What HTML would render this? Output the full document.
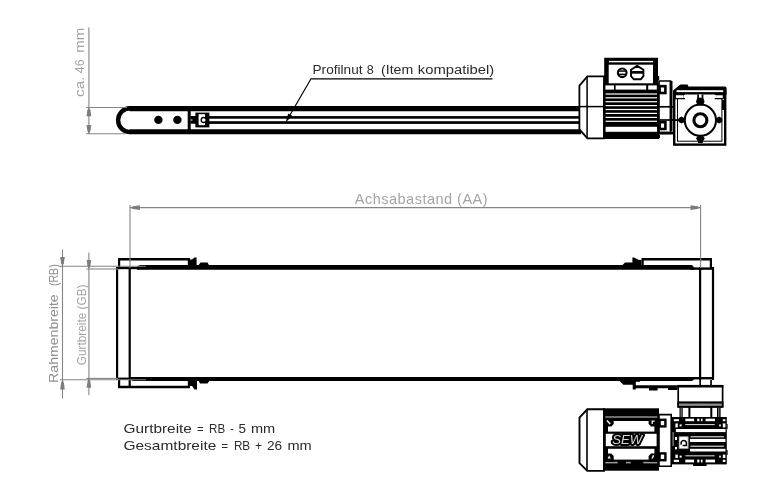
<!DOCTYPE html>
<html lang="de">
<head>
<meta charset="utf-8">
<title>Gurtförderer – Maßzeichnung</title>
<style>
  html, body { margin: 0; padding: 0; background: #fff; }
  body { width: 768px; height: 491px; overflow: hidden; }
  svg { display: block; will-change: transform; filter: grayscale(1); }
  text { font-family: "Liberation Sans", sans-serif; }
  .lbl { font-size: 12.4px; fill: #2b2b2b; }
  .dim { font-size: 13.2px; fill: #8f8f8f; }
  .aa  { font-size: 14.5px; fill: #a4a4a4; }
  .g   { stroke: #858585; stroke-width: 1.1; fill: none; }
  .ga  { fill: #7c7c7c; stroke: none; }
  .k   { fill: #000; stroke: none; }
  .w   { fill: #fff; stroke: none; }
  .o   { fill: #fff; stroke: #000; }
  .l   { fill: none; stroke: #000; }
</style>
</head>
<body>
<svg width="768" height="491" viewBox="0 0 768 491">
<rect width="768" height="491" fill="#fff"/>

<!-- ================= SIDE VIEW ================= -->

<g id="side-conveyor">
  <!-- body outline with rounded nose -->
  <path class="k" d="M129.5,106.1 H581 V111.2 H129.5 Z"/>
  <path class="k" d="M129.5,129.2 H581 V134.2 H129.5 Z"/>
  <path class="l" stroke-width="4.4" d="M130,108.3 A11.9,11.9 0 0 0 130,132.1"/>
  <!-- inner thin rails -->
  <rect class="k" x="207" y="116.1" width="374" height="2.6"/>
  <rect class="k" x="207" y="121.2" width="374" height="2.7"/>
  <!-- end plate -->
  <rect class="k" x="187.7" y="110" width="3" height="20"/>
  <rect class="k" x="190.4" y="116" width="5.6" height="7.7"/>
  <rect class="w" x="190.7" y="119.5" width="1.8" height="1"/>
  <rect class="k" x="195.4" y="112.6" width="14" height="14.8"/>
  <rect class="w" x="198.6" y="114.2" width="6.4" height="11"/>
  <circle class="o" stroke-width="1.3" cx="203.7" cy="120" r="2.5"/>
  <!-- holes -->
  <circle class="k" cx="158.4" cy="119.9" r="4.2"/>
  <circle class="k" cx="177.4" cy="119.9" r="4.2"/>
</g>

<g id="side-label">
  <text class="lbl" y="74.4" style="font-size:12.5px"><tspan x="312.5" textLength="50" lengthAdjust="spacingAndGlyphs">Profilnut</tspan> <tspan x="366.8" textLength="7" lengthAdjust="spacingAndGlyphs">8</tspan> <tspan x="381" textLength="32.2" lengthAdjust="spacingAndGlyphs">(Item</tspan> <tspan x="417.8" textLength="76.4" lengthAdjust="spacingAndGlyphs">kompatibel)</tspan></text>
  <path class="l" stroke="#555" stroke-width="1.2" d="M492.5,78.8 H311 L290,115"/>
  <polygon class="k" points="285.6,122.4 288.2,113.4 292.2,115.8"/>
</g>

<!-- ================= TOP VIEW ================= -->

<g id="top-conveyor">
  <!-- belt edges -->
  <path class="k" d="M137,266.6 L140,265 H692 L694,267.2 V269.8 H137 Z"/>
  <rect class="k" x="118" y="266.8" width="30" height="2.4"/>
  <rect class="k" x="690" y="267.4" width="24" height="2.4"/>
  <path class="k" d="M131,377 H694 V379.4 L692,381 H133 L131,380 Z"/>
  <rect class="k" x="118" y="377.6" width="30" height="2.4"/>
  <rect class="k" x="690" y="377" width="24" height="2.4"/>
  <!-- end rollers -->
  <rect class="k" x="116" y="267" width="2.2" height="113"/>
  <rect class="k" x="128.6" y="267" width="2.2" height="120"/>
  <rect class="k" x="699" y="267" width="2.2" height="113"/>
  <rect class="k" x="711.9" y="267" width="2.2" height="113"/>
  <!-- side rails -->
  <path class="k" d="M118,267 V258 H190 V267 H187.8 V260.5 H120.2 V267 Z"/>
  <path class="k" d="M118,380 V388.2 H190 V380 H187.8 V385.7 H120.2 V380 Z"/>
  <path class="k" d="M641.5,267 V258 H712 V268 H709.8 V260.6 H643.7 V267 Z"/>
  <!-- brackets -->
  <path class="k" d="M190,266 V259.5 H192 L194.5,257.4 H196.6 V266 Z M198,266 L200.5,262.4 H207.5 L209.5,266 Z"/>
  <path class="k" d="M641.5,266 V260 H639 L634,257.4 H632.4 V262.4 H625 L621.5,266 Z"/>
  <path class="k" d="M190,380 V386 H192 L194.5,389.6 H197 V380 Z M198,380 H210 L207.5,383.4 H200 Z"/>
</g>

<g id="notes">
  <text class="lbl" y="432.6"><tspan x="123.5" textLength="68.4" lengthAdjust="spacingAndGlyphs">Gurtbreite</tspan> <tspan x="197.1" textLength="6.6" lengthAdjust="spacingAndGlyphs">=</tspan> <tspan x="209.1" textLength="16.1" lengthAdjust="spacingAndGlyphs">RB</tspan> <tspan x="230" textLength="3.9" lengthAdjust="spacingAndGlyphs">-</tspan> <tspan x="238.5" textLength="7.5" lengthAdjust="spacingAndGlyphs">5</tspan> <tspan x="250.9" textLength="24.3" lengthAdjust="spacingAndGlyphs">mm</tspan></text>
  <text class="lbl" y="449.5"><tspan x="123.5" textLength="92.8" lengthAdjust="spacingAndGlyphs">Gesamtbreite</tspan> <tspan x="221.5" textLength="6.6" lengthAdjust="spacingAndGlyphs">=</tspan> <tspan x="233.9" textLength="16.3" lengthAdjust="spacingAndGlyphs">RB</tspan> <tspan x="255.2" textLength="6.8" lengthAdjust="spacingAndGlyphs">+</tspan> <tspan x="266.9" textLength="15.2" lengthAdjust="spacingAndGlyphs">26</tspan> <tspan x="287.4" textLength="24.3" lengthAdjust="spacingAndGlyphs">mm</tspan></text>
</g>


<!-- ================= SIDE VIEW: MOTOR ================= -->
<g id="side-motor">
  <!-- fan cover -->
  <path class="o" stroke-width="1.8" d="M579.4,85.6 L587.4,76.4 H604 V138.3 H587.4 L579.4,129.4 Z"/>
  <line class="l" stroke-width="1.5" x1="587.1" y1="76.4" x2="587.1" y2="138.3"/>
  <line class="l" stroke-width="1.5" x1="579.4" y1="106.6" x2="604" y2="106.6"/>
  <!-- motor body -->
  <rect class="k" x="603.2" y="83.4" width="56" height="55.6"/>
  <rect class="w" x="605.4" y="85.4" width="8.6" height="4.2"/>
  <rect class="w" x="615.6" y="85.4" width="30.6" height="4.2"/>
  <rect class="w" x="648.2" y="85.4" width="8.6" height="4.2"/>
  <g class="w">
    <rect x="605.6" y="93.4" width="51.4" height="1.2"/>
    <rect x="605.6" y="97.2" width="51.4" height="1.2"/>
    <rect x="605.6" y="101.1" width="51.4" height="1.2"/>
    <rect x="605.6" y="105" width="51.4" height="1.2"/>
    <rect x="605.6" y="108.9" width="51.4" height="1.2"/>
    <rect x="605.6" y="112.8" width="51.4" height="1.2"/>
    <rect x="605.6" y="116.8" width="51.4" height="1.2"/>
    <rect x="605.6" y="120.7" width="51.4" height="1.2"/>
    <rect x="605.6" y="126.8" width="51.4" height="5"/>
  </g>
  <path class="k" d="M659,100 h1 v2 h-1 z M659,104 h1 v2 h-1 z M659,108 h1 v2 h-1 z M659,112 h1 v2 h-1 z M659,116 h1 v2 h-1 z M659,122 h1 v2 h-1 z M659,135 h1 v3 h-1 z"/>
  <!-- terminal box -->
  <path class="k" d="M604.2,57.8 H658 V84.8 H604.2 Z M656.8,76 h2.4 v4 h-2.4 z"/>
  <rect class="w" x="609" y="60.9" width="44" height="1.4"/>
  <rect class="w" x="608.7" y="64.7" width="44.3" height="18.6"/>
  <circle class="o" stroke-width="2.1" cx="622.2" cy="72.8" r="4.3"/>
  <rect class="k" x="618" y="70.3" width="8.6" height="1.5"/>
  <rect class="k" x="618" y="73.6" width="8.6" height="1.5"/>
  <path class="o" stroke-width="1.9" stroke-linejoin="round" d="M637.2,65.9 L643.4,69.8 V76.2 L640.8,79.3 H633.8 L631,76.2 V69.8 Z"/>
  <rect class="k" x="630.4" y="71" width="13.6" height="2.7"/>
  <!-- flange motor/gear -->
  <path class="o" stroke-width="1.6" d="M659,81 H670.6 V133.5 H659 Z"/>
  <rect class="o" stroke-width="2.6" x="659.6" y="86.2" width="5.8" height="6.8"/>
  <rect class="o" stroke-width="2.6" x="659.6" y="122.2" width="5.8" height="6.8"/>
  <line class="l" stroke-width="1.7" x1="659" y1="106.8" x2="676" y2="106.8"/>
  <line class="l" stroke-width="1.7" x1="659" y1="120" x2="682" y2="120"/>
  <rect class="k" x="669.7" y="81" width="2.8" height="50"/>
  <path class="k" d="M659,131.6 H673 V134.4 H659 Z"/>
  <!-- gearbox -->
  <rect class="o" stroke-width="2.4" x="674.2" y="92" width="51" height="52.6"/>
  <rect class="l" stroke-width="1" x="677.5" y="96" width="44.4" height="45.2"/>
  <path class="k" d="M673,94.6 V90.6 L679.4,85.2 L680.6,84.5 H687.6 L688.4,86.5 H725.4 L726.6,87.8 V94.6 Z"/>
  <rect class="w" x="676.6" y="90.2" width="46.6" height="1.9"/>
  <rect class="o" stroke-width="1.3" x="675.3" y="94.6" width="9" height="4"/>
  <rect class="o" stroke-width="1.3" x="715.4" y="94.6" width="8" height="4"/>
  <rect class="w" x="684" y="95" width="32" height="3"/>
  <circle class="o" stroke-width="2" cx="700.4" cy="120.2" r="15.6"/>
  <circle class="o" stroke-width="3.1" cx="700.4" cy="120.2" r="6.5"/>
  <!-- lugs -->
  <path class="k" d="M697.2,94.6 h6.2 v3.6 l1.2,3.2 -1.6,4 h-5.4 l-1.6,-4 1.2,-3.2 z"/><rect class="w" x="699" y="94.3" width="2.6" height="3.4"/>
  <path class="k" d="M698,135.6 h4.8 l2,3 -2,3 v1.5 h-4.8 v-1.5 l-2,-3 z"/>
  <path class="k" d="M681.6,116.6 l3,1.6 v3.8 l-3,1.6 -3,-1.6 v-3.8 z"/>
  <path class="k" d="M719.2,116.6 l3,1.6 v3.8 l-3,1.6 -3,-1.6 v-3.8 z"/>
  <rect class="k" x="722" y="100" width="2.6" height="10"/>
  <rect class="k" x="672" y="119.2" width="8" height="1.8"/>
</g>


<!-- ================= TOP VIEW: DRIVE ================= -->
<g id="top-drive">
  <!-- lower-right rail / bracket -->
  <path class="k" d="M619.2,380.4 L623.3,384.8 H632.7 V389.4 H635.8 V388.2 H649 V390.4 H657.6 V388.2 H668 V390 H677.4 V385.2 H635.8 V381.8 H640 V380.4 Z"/>
  <rect class="w" x="636" y="382" width="4" height="1.4"/>
  <!-- shaft stub -->
  <rect class="k" x="699.3" y="380" width="1.7" height="6"/>
  <rect class="k" x="710.2" y="380" width="1.7" height="6"/>
  <!-- mounting block -->
  <rect class="o" stroke-width="1.7" x="678.2" y="386" width="44.4" height="20.8"/>
  <rect class="k" x="677.4" y="384.9" width="46" height="2.6"/>
  <rect class="k" x="677.4" y="401.4" width="46" height="6.3"/>
  <rect x="679" y="403.5" width="42.8" height="2.4" fill="#8a8a8a"/>
  <!-- studs -->
  <g>
    <rect class="k" x="679.5" y="407" width="3.2" height="11"/>
    <rect x="680.6" y="407.6" width="1" height="10" fill="#999"/>
    <rect class="k" x="688.4" y="407" width="2" height="11"/>
    <rect class="k" x="710.3" y="407" width="2" height="11"/>
    <rect class="k" x="717" y="407" width="3.6" height="11"/>
    <rect x="718.3" y="407.6" width="1" height="10" fill="#999"/>
  </g>
  <!-- fan cover -->
  <path class="o" stroke-width="1.9" d="M579.5,417.6 L587.3,409.3 H604 V470.9 H587.3 L579.5,463.2 Z"/>
  <line class="l" stroke-width="1.6" x1="587" y1="409.2" x2="587" y2="471"/>
  <!-- motor body -->
  <rect class="k" x="603" y="408.3" width="56" height="62.4"/>
  <rect x="605.3" y="416.3" width="52" height="1.4" fill="#9a9a9a"/>
  <rect class="w" x="608" y="421" width="46.4" height="10.6"/>
  <rect class="w" x="605.8" y="433.8" width="50.8" height="12.4"/>
  <rect class="w" x="608" y="448.8" width="46.4" height="10.8"/>
  <rect x="605.3" y="461.8" width="12.4" height="1.6" fill="#9a9a9a"/>
  <rect x="626" y="461.8" width="4.8" height="1.6" fill="#9a9a9a"/>
  <rect x="643.3" y="461.8" width="14" height="1.6" fill="#9a9a9a"/>
  <!-- corner screws -->
  <g class="k">
    <path d="M605.3,418 h8.4 v6 l-2.4,2.4 h-6 z"/>
    <path d="M657,418 h-8.4 v6 l2.4,2.4 h6 z"/>
    <path d="M605.3,462 h8.4 v-6 l-2.4,-2.4 h-6 z"/>
    <path d="M657,462 h-8.4 v-6 l2.4,-2.4 h6 z"/>
  </g>
  <g class="w">
    <path d="M607.4,420 l3.4,3.6 -1,1 -3.4,-3.6 z"/>
    <path d="M651.6,420.6 h3 v1.2 h-1.8 v2.2 h-1.2 z"/>
    <path d="M607.6,458.6 l1.6,-3 1.6,3 z"/>
    <path d="M651.4,458.6 l1.4,-3.4 h1.4 l-1.2,3.4 z"/>
  </g>
  <!-- SEW nameplate -->
  <text x="612.2" y="444.4" font-size="12.8" font-style="italic" fill="#d8d8d8" stroke="#000" stroke-width="3.9" stroke-linejoin="round" paint-order="stroke" textLength="29.8" lengthAdjust="spacingAndGlyphs">SEW</text>
  <!-- teeth on body right edge -->
  <path class="k" d="M659,424 h1 v2 h-1 z M659,430 h1 v2 h-1 z M659,436 h1 v2 h-1 z M659,442 h1 v2 h-1 z M659,448 h1 v2 h-1 z"/>
  <!-- flange -->
  <path class="o" stroke-width="1.6" d="M659,414.6 H671.2 V466.2 H659 Z"/>
  <rect class="o" stroke-width="2.4" x="659.6" y="419.8" width="5.8" height="6.6"/>
  <rect class="o" stroke-width="2.4" x="659.6" y="453.4" width="5.8" height="6.8"/>
  <!-- gearbox -->
  <rect class="k" x="671.6" y="417" width="55.2" height="47.4"/>
  <rect class="k" x="693" y="464" width="13.6" height="2"/>
  <rect class="k" x="726.6" y="424" width="1" height="5"/>
  <rect class="k" x="726.6" y="450" width="1" height="5"/>
  <rect x="672.6" y="432" width="1" height="14" fill="#aaa"/>
  <g class="w">
    <!-- upper flange row -->
    <rect x="673.8" y="419.2" width="5.2" height="2"/>
    <rect x="685.3" y="418.7" width="8.8" height="2.5"/>
    <rect x="697.2" y="418.7" width="2.2" height="2.5"/>
    <rect x="700.9" y="418.7" width="1.6" height="2.5"/>
    <rect x="705.6" y="418.7" width="9.4" height="2.5"/>
    <rect x="722.8" y="419.2" width="2.6" height="2"/>
    <rect x="675.4" y="423.4" width="2.4" height="4"/>
    <rect x="679.6" y="424.4" width="2" height="2"/>
    <rect x="685.3" y="424.2" width="29.4" height="0.9"/>
    <rect x="719.2" y="424.4" width="1.6" height="2"/>
    <rect x="722.8" y="423.4" width="2.6" height="4"/>
    <!-- body bands -->
    <rect x="675.9" y="429" width="49.6" height="3.1"/>
    <rect x="690.5" y="436.3" width="33.4" height="1"/>
    <rect x="690" y="438.9" width="35.4" height="3.1"/>
    <rect x="690.5" y="445.7" width="33.4" height="1"/>
    <rect x="690" y="448.8" width="35.4" height="2.7"/>
    <rect x="675" y="437" width="2" height="3"/>
    <rect x="675" y="447" width="2" height="2.4"/>
    <!-- lower flange row -->
    <rect x="675.4" y="454.6" width="2.4" height="3.4"/>
    <rect x="679.6" y="455.6" width="2" height="2"/>
    <rect x="685.3" y="455.4" width="29.4" height="0.9"/>
    <rect x="719.2" y="455.6" width="1.6" height="2"/>
    <rect x="722.8" y="454.6" width="2.6" height="3.4"/>
    <rect x="673.8" y="459.8" width="5.2" height="2.2"/>
    <rect x="685.3" y="459.6" width="8.8" height="2.8"/>
    <rect x="697.2" y="459.6" width="2.2" height="2.8"/>
    <rect x="700.9" y="459.6" width="1.6" height="2.8"/>
    <rect x="705.6" y="459.6" width="9.4" height="2.8"/>
    <rect x="722.8" y="459.8" width="2.6" height="2.2"/>
  </g>
  <!-- plug box -->
  <rect x="678.3" y="436" width="10.6" height="13.2" fill="#fff" stroke="#000" stroke-width="1.2"/>
  <rect x="679.2" y="436.8" width="8.8" height="11.6" fill="none" stroke="#999" stroke-width="0.7"/>
  <path class="l" stroke-width="1.5" d="M681.4,444.6 A2.7,2.7 0 1 1 686.4,443 V445.6 H682.6"/>
</g>

<g id="side-dim">
  <line class="g" x1="88.9" y1="27.4" x2="88.9" y2="134"/>
  <line class="g" x1="86.2" y1="107.5" x2="127" y2="107.5"/>
  <line class="g" x1="86.2" y1="133.8" x2="125.5" y2="133.8"/>
  <polygon class="ga" points="91.3,116.3 90.4,110.3 88.9,107.7 87.4,110.3 86.5,116.3"/>
  <polygon class="ga" points="86.5,124.9 87.4,131.1 88.9,133.7 90.4,131.1 91.3,124.9"/>
  <text class="dim" style="fill:#a2a2a2" transform="translate(84.3,97) rotate(-90)"><tspan x="0" textLength="20.5" lengthAdjust="spacingAndGlyphs">ca.</tspan> <tspan x="23.8" textLength="13.8" lengthAdjust="spacingAndGlyphs">46</tspan> <tspan x="44.3" textLength="25" lengthAdjust="spacingAndGlyphs">mm</tspan></text>
</g>
<g id="top-dim">
  <!-- AA -->
  <line class="g" x1="130" y1="207.6" x2="700.6" y2="207.6"/>
  <line class="g" x1="130" y1="205" x2="130" y2="268"/>
  <line class="g" x1="700.6" y1="205" x2="700.6" y2="268"/>
  <polygon class="ga" points="139.9,205.3 133.2,206.2 130.3,207.6 133.2,209.0 139.9,209.9"/>
  <polygon class="ga" points="690.5,209.9 697.4,209.0 700.3,207.6 697.4,206.2 690.5,205.3"/>
  <text class="aa" x="354.8" y="203.9" textLength="132.8" lengthAdjust="spacing">Achsabastand (AA)</text>
  <!-- RB -->
  <line class="g" x1="62.5" y1="249.5" x2="62.5" y2="398.5"/>
  <line class="g" x1="60" y1="266.2" x2="146" y2="266.2"/>
  <line class="g" x1="60" y1="379.8" x2="146" y2="379.8"/>
  <polygon class="ga" points="60.2,257.0 61.1,263.3 62.5,266.0 63.9,263.3 64.8,257.0"/>
  <polygon class="ga" points="64.8,389.4 63.9,382.8 62.5,380.0 61.1,382.8 60.2,389.4"/>
  <text class="dim" transform="translate(58,382.9) rotate(-90)"><tspan x="0" textLength="88.6" lengthAdjust="spacingAndGlyphs">Rahmenbreite</tspan> <tspan x="96.8" textLength="21.8" lengthAdjust="spacingAndGlyphs">(RB)</tspan></text>
  <!-- GB -->
  <line class="g" x1="88.9" y1="252.5" x2="88.9" y2="395"/>
  <line class="g" x1="86.5" y1="269" x2="118" y2="269"/>
  <line class="g" x1="86.5" y1="378.4" x2="118" y2="378.4"/>
  <polygon class="ga" points="86.6,260.0 87.5,266.2 88.9,268.8 90.3,266.2 91.2,260.0"/>
  <polygon class="ga" points="91.2,387.8 90.3,381.4 88.9,378.6 87.5,381.4 86.6,387.8"/>
  <text class="aa" style="font-size:13.4px" transform="translate(86,365.3) rotate(-90)" textLength="80.8" lengthAdjust="spacingAndGlyphs">Gurtbreite (GB)</text>
</g>
</svg>
</body>
</html>
